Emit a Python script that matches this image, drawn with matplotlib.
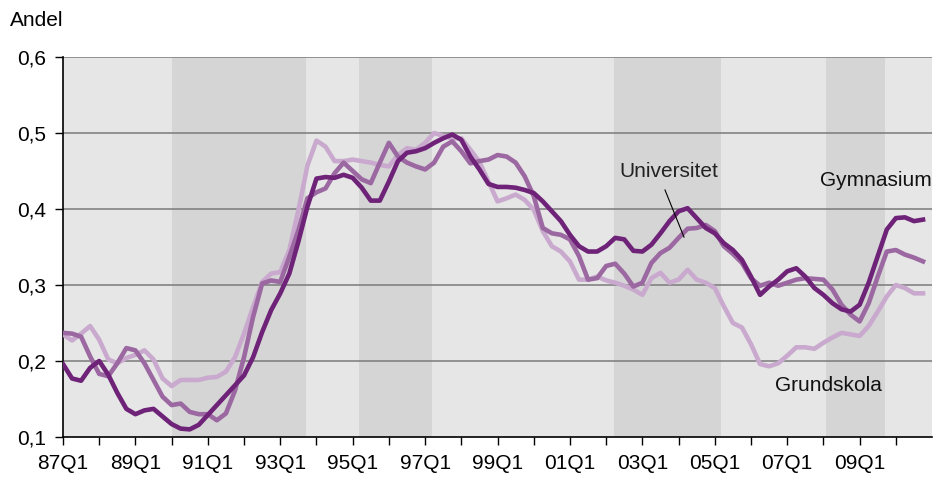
import numpy as np
import matplotlib.pyplot as plt

plt.rcParams['font.family'] = ['Liberation Sans', 'DejaVu Sans']

# quarterly observations, 87Q1 .. 10Q4
quarters = ['%02dQ%d' % (y % 100, q) for y in range(1987, 2011) for q in range(1, 5)]

gymnasium = [0.196, 0.177, 0.174, 0.191, 0.200, 0.182, 0.158, 0.137, 0.130, 0.135, 0.137, 0.127,
             0.117, 0.111, 0.110, 0.116, 0.129, 0.142, 0.155, 0.168, 0.181, 0.205, 0.238, 0.267,
             0.289, 0.315, 0.357, 0.403, 0.440, 0.442, 0.441, 0.445, 0.441, 0.428, 0.411, 0.411,
             0.436, 0.463, 0.474, 0.476, 0.480, 0.487, 0.493, 0.498, 0.491, 0.469, 0.452, 0.433,
             0.429, 0.429, 0.428, 0.425, 0.421, 0.410, 0.397, 0.384, 0.366, 0.351, 0.344, 0.344,
             0.351, 0.362, 0.360, 0.345, 0.344, 0.353, 0.368, 0.384, 0.397, 0.401, 0.388, 0.375,
             0.368, 0.355, 0.346, 0.333, 0.311, 0.287, 0.298, 0.307, 0.318, 0.322, 0.311, 0.296,
             0.287, 0.276, 0.268, 0.265, 0.274, 0.303, 0.338, 0.373, 0.388, 0.389, 0.384, 0.386]

universitet = [0.237, 0.236, 0.232, 0.206, 0.183, 0.180, 0.197, 0.217, 0.214, 0.197, 0.175, 0.153,
               0.142, 0.144, 0.133, 0.130, 0.130, 0.122, 0.131, 0.161, 0.205, 0.258, 0.302, 0.306,
               0.304, 0.337, 0.372, 0.414, 0.422, 0.427, 0.447, 0.461, 0.450, 0.439, 0.434, 0.461,
               0.487, 0.469, 0.461, 0.456, 0.452, 0.461, 0.482, 0.489, 0.476, 0.460, 0.463, 0.465,
               0.471, 0.469, 0.461, 0.443, 0.417, 0.375, 0.368, 0.366, 0.360, 0.338, 0.307, 0.309,
               0.325, 0.328, 0.315, 0.298, 0.303, 0.329, 0.342, 0.349, 0.362, 0.374, 0.375, 0.379,
               0.371, 0.351, 0.341, 0.329, 0.309, 0.299, 0.303, 0.299, 0.303, 0.307, 0.309, 0.308,
               0.307, 0.294, 0.274, 0.261, 0.252, 0.276, 0.311, 0.344, 0.346, 0.340, 0.336, 0.331]

grundskola = [0.235, 0.227, 0.236, 0.246, 0.228, 0.202, 0.197, 0.204, 0.208, 0.214, 0.202, 0.177,
              0.167, 0.175, 0.175, 0.175, 0.178, 0.179, 0.186, 0.205, 0.236, 0.271, 0.304, 0.315,
              0.317, 0.346, 0.398, 0.457, 0.490, 0.482, 0.463, 0.463, 0.465, 0.463, 0.461, 0.458,
              0.456, 0.471, 0.480, 0.478, 0.487, 0.500, 0.496, 0.493, 0.493, 0.478, 0.462, 0.436,
              0.410, 0.414, 0.419, 0.412, 0.399, 0.371, 0.351, 0.344, 0.331, 0.307, 0.307, 0.311,
              0.306, 0.303, 0.299, 0.294, 0.287, 0.309, 0.316, 0.303, 0.307, 0.320, 0.307, 0.303,
              0.296, 0.272, 0.250, 0.244, 0.222, 0.196, 0.193, 0.197, 0.207, 0.218, 0.218, 0.216,
              0.224, 0.231, 0.237, 0.235, 0.233, 0.246, 0.265, 0.285, 0.300, 0.296, 0.289, 0.289]

# shaded periods, in quarter positions
periods = [(12.0, 26.8), (32.7, 40.8), (60.9, 72.7), (84.3, 90.8)]

y_ticks = [0.1, 0.2, 0.3, 0.4, 0.5, 0.6]
y_labels = ['0,1', '0,2', '0,3', '0,4', '0,5', '0,6']

x = np.arange(len(quarters))
year_starts = x[::4]
year_labels = [q if k % 2 == 0 else '' for k, q in enumerate(quarters[::4])]

fig = plt.figure(figsize=(9.33, 4.78), dpi=100)
ax = fig.add_axes([0.0675, 0.0858, 0.9315, 0.795])
ax.set_facecolor('#e6e6e6')

for a, b in periods:
    ax.axvspan(a, b, color='#d5d5d5', lw=0, zorder=0)

for v in y_ticks[1:]:
    ax.axhline(v, color='#7a7a7a', lw=1.1, zorder=1)

ax.plot(x, grundskola, color='#c9aace', lw=3.3, zorder=3)
ax.plot(x, universitet, color='#9c68a2', lw=3.3, zorder=4)
ax.plot(x, gymnasium, color='#6e2278', lw=3.3, zorder=5)

ax.set_xlim(0, 96)
ax.set_ylim(0.1, 0.6)

ax.set_yticks(y_ticks)
ax.set_yticklabels(y_labels, fontsize=15)
ax.set_xticks(year_starts)
ax.set_xticklabels(year_labels, fontsize=15)
ax.tick_params(axis='both', direction='out', length=6, width=1, color='black', pad=6)

for s in ['top', 'right']:
    ax.spines[s].set_visible(False)
ax.spines['left'].set_linewidth(1.2)
ax.spines['bottom'].set_linewidth(1.2)

ax.text(66.9, 0.449, 'Universitet', fontsize=15, ha='center', va='center', color='#222222')
ax.plot([66.5, 68.6], [0.425, 0.363], color='black', lw=0.8, zorder=6)
ax.text(89.8, 0.437, 'Gymnasium', fontsize=15, ha='center', va='center', color='#111111')
ax.text(84.5, 0.168, 'Grundskola', fontsize=15, ha='center', va='center', color='#111111')

fig.text(10 / 933, 1 - 20 / 478, 'Andel', fontsize=15, ha='left', va='center')

fig.savefig('out.png', dpi=100)
